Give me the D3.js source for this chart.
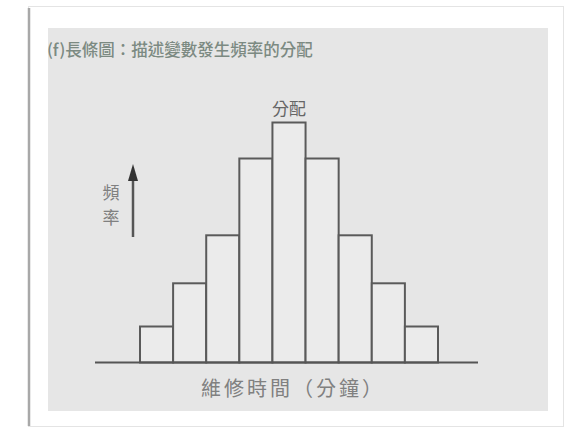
<!DOCTYPE html>
<html>
<head>
<meta charset="utf-8">
<script src="https://cdn.jsdelivr.net/npm/d3@7"></script>
<style>
  body { margin: 0; background: #fff; }
  text { font-family: "Noto Sans CJK TC", "Noto Sans CJK SC", sans-serif; }
</style>
</head>
<body>
<div id="graf"></div>
<script>
// datos
const bins = ["1", "2", "3", "4", "5", "6", "7", "8", "9"]
const freq = [15, 33, 53, 85, 100, 85, 53, 33, 15]
const title = "(f)長條圖：描述變數發生頻率的分配"
const peakLabel = "分配"
const xLabel = "維修時間（分鐘）"
const yLabel = ["頻", "率"]

const draw = () => {
  const anchoTotal = 567
  const altoTotal = 429

  const svg = d3.select("#graf")
    .append("svg")
    .attr("width", anchoTotal)
    .attr("height", altoTotal)

  // marco exterior
  svg.append("rect")
    .attr("x", 28.5).attr("y", 6.5)
    .attr("width", 535).attr("height", 420)
    .attr("fill", "#fff")
    .attr("stroke", "#e4e4e4")
  svg.append("line")
    .attr("x1", 29).attr("x2", 29)
    .attr("y1", 8).attr("y2", 426)
    .attr("stroke", "#a8a8a8").attr("stroke-width", 2.5)

  // panel gris
  svg.append("rect")
    .attr("x", 48).attr("y", 28)
    .attr("width", 500).attr("height", 383)
    .attr("fill", "#e6e6e6")

  svg.append("text")
    .attr("x", 47).attr("y", 56)
    .attr("fill", "#7c8a82")
    .style("font-size", "16.5px")
    .style("font-weight", "500")
    .text(title)

  // escaladores
  const x = d3.scaleBand().domain(bins).range([140, 438]).padding(0)
  const y = d3.scaleLinear().domain([0, 100]).range([362.5, 122.5])

  const chart = svg.append("g")

  chart.selectAll("rect.bar")
    .data(freq)
    .join("rect")
    .attr("class", "bar")
    .attr("x", (d, i) => x(bins[i]))
    .attr("y", d => y(d))
    .attr("width", x.bandwidth())
    .attr("height", d => y(0) - y(d))
    .attr("fill", "#ebebeb")
    .attr("stroke", "#5a5a5a")
    .attr("stroke-width", 2)

  // eje base
  chart.append("line")
    .attr("x1", 95).attr("x2", 478)
    .attr("y1", y(0)).attr("y2", y(0))
    .attr("stroke", "#555")
    .attr("stroke-width", 2)

  const peak = d3.maxIndex(freq)
  chart.append("text")
    .attr("x", x(bins[peak]) + x.bandwidth() / 2)
    .attr("y", y(freq[peak]) - 8)
    .attr("text-anchor", "middle")
    .attr("fill", "#666")
    .style("font-size", "17px")
    .text(peakLabel)

  chart.append("text")
    .attr("x", 293).attr("y", 396)
    .attr("text-anchor", "middle")
    .attr("fill", "#808080")
    .style("font-size", "20px")
    .style("letter-spacing", "3px")
    .text(xLabel)

  // etiqueta vertical + flecha
  chart.selectAll("text.ylab")
    .data(yLabel)
    .join("text")
    .attr("class", "ylab")
    .attr("x", 111)
    .attr("y", (d, i) => 199 + i * 25)
    .attr("text-anchor", "middle")
    .attr("fill", "#808080")
    .style("font-size", "17px")
    .text(d => d)

  chart.append("line")
    .attr("x1", 133).attr("x2", 133)
    .attr("y1", 237).attr("y2", 178)
    .attr("stroke", "#555").attr("stroke-width", 2.5)
  chart.append("path")
    .attr("d", "M133,164 L128,181 L138,181 Z")
    .attr("fill", "#333")
}

draw()
</script>
</body>
</html>
